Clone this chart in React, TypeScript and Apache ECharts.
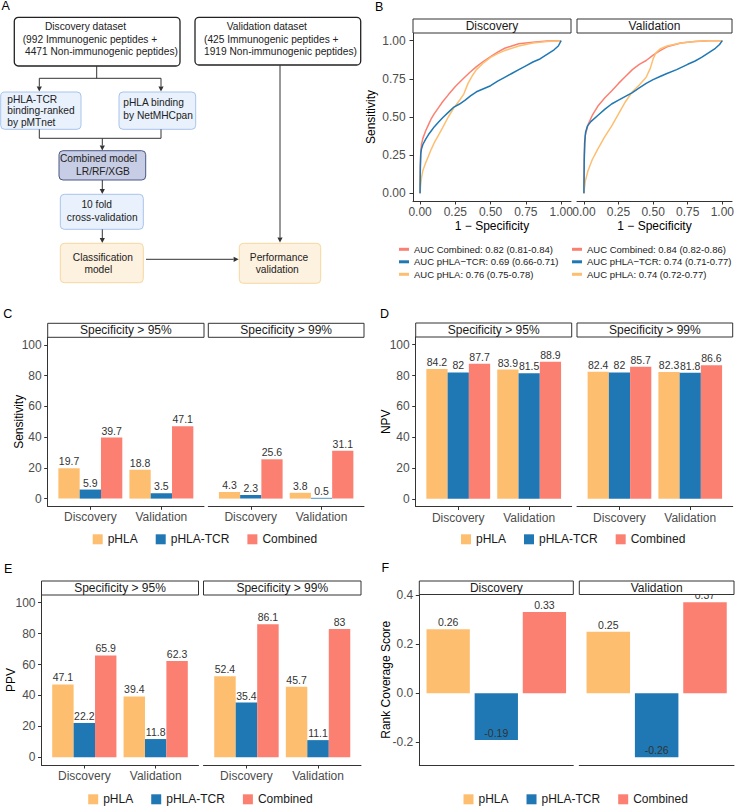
import React, { useEffect, useRef } from "react";
import * as echarts from "echarts";

const FONT = '"Liberation Sans", Arial, Helvetica, sans-serif';

// ---------------- data ----------------
const groups = ["Discovery", "Validation"];
const models = ["pHLA", "pHLA-TCR", "Combined"];
const modelColors = ["#FDBF6F", "#1F78B4", "#FB8072"];

// rows: pHLA, pHLA-TCR, Combined ; cols: Discovery, Validation
const sens95 = [[19.7, 18.8], [5.9, 3.5], [39.7, 47.1]];
const sens99 = [[4.3, 3.8], [2.3, 0.5], [25.6, 31.1]];
const npv95 = [[84.2, 83.9], [82, 81.5], [87.7, 88.9]];
const npv99 = [[82.4, 82.3], [82, 81.8], [85.7, 86.6]];
const ppv95 = [[47.1, 39.4], [22.2, 11.8], [65.9, 62.3]];
const ppv99 = [[52.4, 45.7], [35.4, 11.1], [86.1, 83]];
// pHLA, pHLA-TCR, Combined
const rcsDiscovery = [0.26, -0.19, 0.33];
const rcsValidation = [0.25, -0.26, 0.37];

const pctTicks = [0, 20, 40, 60, 80, 100];
const rocTicks = [0, 0.25, 0.5, 0.75, 1];
const rcsTicks = [-0.2, 0, 0.2, 0.4];

const aucDiscovery = [
  "AUC Combined: 0.82 (0.81-0.84)",
  "AUC pHLA\u2212TCR: 0.69 (0.66-0.71)",
  "AUC pHLA: 0.76 (0.75-0.78)",
];
const aucValidation = [
  "AUC Combined: 0.84 (0.82-0.86)",
  "AUC pHLA\u2212TCR: 0.74 (0.71-0.77)",
  "AUC pHLA: 0.74 (0.72-0.77)",
];

// ROC curves [1 - specificity, sensitivity]
const rocDiscCombined = [[0, 0], [0.002, 0.15], [0.005, 0.27], [0.01, 0.32], [0.02, 0.36], [0.04, 0.41], [0.06, 0.45], [0.08, 0.49], [0.1, 0.52], [0.13, 0.56], [0.16, 0.6], [0.2, 0.645], [0.25, 0.7], [0.3, 0.745], [0.35, 0.79], [0.4, 0.83], [0.45, 0.865], [0.5, 0.895], [0.55, 0.925], [0.6, 0.95], [0.65, 0.965], [0.7, 0.98], [0.8, 0.99], [0.9, 0.997], [1, 1]];
const rocDiscPHLA = [[0, 0], [0.003, 0.04], [0.01, 0.1], [0.02, 0.15], [0.04, 0.2], [0.06, 0.245], [0.08, 0.29], [0.1, 0.33], [0.13, 0.38], [0.16, 0.43], [0.2, 0.5], [0.24, 0.56], [0.28, 0.61], [0.31, 0.65], [0.34, 0.72], [0.37, 0.77], [0.4, 0.81], [0.45, 0.855], [0.5, 0.89], [0.55, 0.915], [0.6, 0.935], [0.7, 0.965], [0.8, 0.985], [0.9, 0.995], [1, 1]];
const rocDiscTCR = [[0, 0], [0.002, 0.18], [0.005, 0.26], [0.01, 0.29], [0.02, 0.32], [0.04, 0.355], [0.06, 0.385], [0.08, 0.41], [0.1, 0.435], [0.13, 0.465], [0.16, 0.495], [0.2, 0.53], [0.24, 0.565], [0.28, 0.585], [0.32, 0.61], [0.36, 0.64], [0.4, 0.665], [0.45, 0.685], [0.5, 0.705], [0.55, 0.735], [0.6, 0.76], [0.65, 0.785], [0.7, 0.81], [0.75, 0.835], [0.8, 0.86], [0.85, 0.88], [0.9, 0.91], [0.95, 0.94], [0.98, 0.965], [1, 1]];
const rocValCombined = [[0, 0], [0.003, 0.25], [0.01, 0.38], [0.03, 0.45], [0.06, 0.51], [0.1, 0.57], [0.15, 0.625], [0.2, 0.67], [0.25, 0.72], [0.3, 0.765], [0.35, 0.81], [0.4, 0.845], [0.45, 0.87], [0.5, 0.905], [0.55, 0.935], [0.6, 0.96], [0.7, 0.985], [0.8, 0.995], [0.9, 0.999], [1, 1]];
const rocValPHLA = [[0, 0], [0.003, 0.03], [0.01, 0.08], [0.03, 0.15], [0.06, 0.22], [0.1, 0.29], [0.15, 0.37], [0.2, 0.44], [0.25, 0.52], [0.3, 0.6], [0.35, 0.665], [0.4, 0.71], [0.45, 0.76], [0.48, 0.82], [0.5, 0.88], [0.52, 0.92], [0.55, 0.945], [0.6, 0.965], [0.7, 0.985], [0.8, 0.995], [0.9, 0.999], [1, 1]];
const rocValTCR = [[0, 0], [0.002, 0.2], [0.005, 0.33], [0.012, 0.4], [0.025, 0.44], [0.05, 0.47], [0.1, 0.51], [0.15, 0.55], [0.2, 0.585], [0.25, 0.61], [0.3, 0.635], [0.35, 0.66], [0.4, 0.69], [0.45, 0.72], [0.5, 0.745], [0.55, 0.765], [0.6, 0.785], [0.67, 0.81], [0.75, 0.845], [0.8, 0.865], [0.85, 0.89], [0.9, 0.92], [0.95, 0.95], [0.98, 0.975], [1, 1]];

// ---------------- layout ----------------
// grid order: B1, B2, C1, C2, D1, D2, E1, E2, F1, F2
const grids = [
  { left: 413, top: 33, width: 158, height: 168 },
  { left: 577, top: 33, width: 155, height: 168 },
  { left: 47.7, top: 337.3, width: 156.3, height: 169 },
  { left: 208.3, top: 337.3, width: 155.7, height: 169 },
  { left: 415.7, top: 337, width: 156, height: 169.5 },
  { left: 577, top: 337, width: 155.7, height: 169.5 },
  { left: 41.5, top: 595, width: 157, height: 170 },
  { left: 203.5, top: 595, width: 157.5, height: 170 },
  { left: 419.3, top: 594.5, width: 154, height: 170.5 },
  { left: 579.3, top: 594.5, width: 154.7, height: 170.5 },
];
const strips = [
  ["Discovery", 0, 19], ["Validation", 1, 19],
  ["Specificity > 95%", 2, 323.3], ["Specificity > 99%", 3, 323.3],
  ["Specificity > 95%", 4, 323], ["Specificity > 99%", 5, 323],
  ["Specificity > 95%", 6, 581], ["Specificity > 99%", 7, 581],
  ["Discovery", 8, 581], ["Validation", 9, 581],
];

const AXIS_COLOR = "#333";
const TICK_COLOR = "#4d4d4d";

function txt(text: string, x: number, y: number, size: number, align = "left", color = "#222", z = 60) {
  return {
    type: "text",
    x,
    y,
    z,
    style: {
      text,
      fill: color,
      fontSize: size,
      fontFamily: FONT,
      align,
      textAlign: align,
      verticalAlign: "middle",
      textVerticalAlign: "middle",
    },
  };
}

function box(x1: number, y1: number, x2: number, y2: number, fill: string, stroke: string, lw = 1) {
  return {
    type: "rect",
    shape: { x: x1, y: y1, width: x2 - x1, height: y2 - y1, r: 4 },
    style: { fill, stroke, lineWidth: lw },
    z: 55,
  };
}

function seg(x1: number, y1: number, x2: number, y2: number) {
  return { type: "line", shape: { x1, y1, x2, y2 }, style: { stroke: "#333", lineWidth: 1 }, z: 55 };
}

function arrow(x1: number, y1: number, x2: number, y2: number) {
  const dx = x2 - x1;
  const dy = y2 - y1;
  const L = Math.hypot(dx, dy);
  const ux = dx / L;
  const uy = dy / L;
  const hl = 5;
  const hw = 2.6;
  const bx = x2 - ux * hl;
  const by = y2 - uy * hl;
  return [
    seg(x1, y1, bx, by),
    {
      type: "polygon",
      shape: { points: [[x2, y2], [bx - uy * hw, by + ux * hw], [bx + uy * hw, by - ux * hw]] },
      style: { fill: "#333" },
      z: 55,
    },
  ];
}

function buildGraphics() {
  const g: any[] = [];
  // panel letters
  const letters: [string, number, number][] = [
    ["A", 1.5, 6.3], ["B", 375, 7.3], ["C", 3.3, 314.2], ["D", 380, 314.2], ["E", 4, 569.2], ["F", 381.5, 568],
  ];
  letters.forEach(([t, x, y]) => g.push(txt(t, x, y, 12.5, "left", "#000")));

  // facet strips
  strips.forEach(([label, gi, top]) => {
    const gr = grids[gi as number];
    const h = (gr.top as number) - (top as number);
    g.push({
      type: "rect",
      shape: { x: gr.left, y: top, width: gr.width, height: h },
      style: { fill: "#fff", stroke: "#333", lineWidth: 1 },
      z: 50,
    });
    g.push(txt(label as string, gr.left + gr.width / 2, (top as number) + h / 2, 12, "center", "#1a1a1a", 51));
  });

  // flowchart (panel A)
  g.push(box(14.3, 17.3, 180, 66, "#fff", "#222", 1.3));
  g.push(txt("Discovery dataset", 45, 26.7, 10.2));
  g.push(txt("(992 Immunogenic peptides +", 22.7, 39.3, 10.2));
  g.push(txt("4471 Non-immunogenic peptides)", 25, 51.7, 10.2));

  g.push(box(195, 17.3, 360.7, 65, "#fff", "#222", 1.3));
  g.push(txt("Validation dataset", 226.7, 26.7, 10.2));
  g.push(txt("(425 Immunogenic peptides +", 204, 39.3, 10.2));
  g.push(txt("1919 Non-immunogenic peptides)", 204, 51.7, 10.2));

  g.push(seg(96.7, 66, 96.7, 78.3));
  g.push(seg(39.3, 78.3, 161, 78.3));
  g.push(...arrow(39.3, 78.3, 39.3, 91.6));
  g.push(...arrow(161, 78.3, 161, 91.6));

  g.push(box(0.7, 92, 81, 129.3, "#e9f1fc", "#a8c4ee"));
  g.push(txt("pHLA-TCR", 7.3, 99.3, 10.2));
  g.push(txt("binding-ranked", 7.3, 110.6, 10.2));
  g.push(txt("by pMTnet", 7.3, 122.5, 10.2));

  g.push(box(119, 92, 195.7, 129.3, "#e9f1fc", "#a8c4ee"));
  g.push(txt("pHLA binding", 123.3, 102.7, 10.2));
  g.push(txt("by NetMHCpan", 123.3, 115, 10.2));

  g.push(seg(39.3, 129.3, 39.3, 138.3));
  g.push(seg(161, 129.3, 161, 138.3));
  g.push(seg(39.3, 138.3, 161, 138.3));
  g.push(...arrow(102.3, 138.3, 102.3, 150.5));

  g.push(box(59, 150.7, 145.7, 180, "#c7cde4", "#4a5784"));
  g.push(txt("Combined model", 98.5, 158.3, 10.2, "center"));
  g.push(txt("LR/RF/XGB", 103, 171.4, 10.2, "center"));

  g.push(...arrow(102.3, 180, 102.3, 194.1));

  g.push(box(60.3, 194.3, 143.3, 229.3, "#e9f1fc", "#a8c4ee"));
  g.push(txt("10 fold", 96.7, 204.3, 10.2, "center"));
  g.push(txt("cross-validation", 102.2, 217, 10.2, "center"));

  g.push(...arrow(102.3, 229.3, 102.3, 243.1));

  g.push(box(60.3, 243.3, 143.3, 282.7, "#fdf1df", "#f6d8a0"));
  g.push(txt("Classification", 102.8, 257.3, 10.2, "center"));
  g.push(txt("model", 98.3, 269.3, 10.2, "center"));

  g.push(box(239.3, 243.3, 320.7, 283.3, "#fdf1df", "#f6d8a0"));
  g.push(txt("Performance", 279, 257.3, 10.2, "center"));
  g.push(txt("validation", 277.2, 269.3, 10.2, "center"));

  g.push(...arrow(146, 259.3, 238.6, 259.3));
  g.push(...arrow(280, 65, 280, 242.6));
  return g;
}

// --------------- axes ---------------
const nameStyle = { fontSize: 12, color: "#000", fontFamily: FONT };

function xAxisOf(i: number, cfg: any) {
  return {
    type: "value",
    gridIndex: i,
    min: cfg.min,
    max: cfg.max,
    splitLine: { show: false },
    axisLine: { show: true, onZero: false, lineStyle: { color: AXIS_COLOR, width: 1 } },
    axisTick: cfg.ticks
      ? { show: true, customValues: cfg.ticks, length: 3.5, lineStyle: { color: AXIS_COLOR } }
      : { show: false },
    axisLabel: cfg.ticks
      ? {
          show: true,
          customValues: cfg.ticks,
          formatter: cfg.fmt,
          margin: 5,
          fontSize: 12,
          color: TICK_COLOR,
          fontFamily: FONT,
        }
      : { show: false },
    name: cfg.name || "",
    nameLocation: "middle",
    nameGap: cfg.nameGap || 0,
    nameTextStyle: nameStyle,
    nameMoveOverlap: false,
  };
}

function yAxisOf(i: number, cfg: any) {
  return {
    type: "value",
    gridIndex: i,
    min: cfg.min,
    max: cfg.max,
    show: cfg.show,
    splitLine: { show: false },
    axisLine: { show: cfg.show, onZero: false, lineStyle: { color: AXIS_COLOR, width: 1 } },
    axisTick: { show: cfg.show, customValues: cfg.ticks, length: 3.5, lineStyle: { color: AXIS_COLOR } },
    axisLabel: {
      show: cfg.show,
      customValues: cfg.ticks,
      formatter: cfg.fmt,
      margin: cfg.margin || 6,
      fontSize: 12,
      color: TICK_COLOR,
      fontFamily: FONT,
    },
    name: cfg.name || "",
    nameLocation: "middle",
    nameGap: cfg.nameGap || 0,
    nameTextStyle: nameStyle,
    nameMoveOverlap: false,
  };
}

// --------------- bar renderers ---------------
function barShape(api: any, m: number, left: number, right: number, v: number) {
  const a = api.coord([left, 0]);
  const b = api.coord([right, v]);
  return {
    type: "group",
    children: [
      {
        type: "rect",
        shape: { x: a[0], y: Math.min(a[1], b[1]), width: b[0] - a[0], height: Math.abs(a[1] - b[1]) },
        style: { fill: modelColors[m] },
      },
      {
        type: "text",
        x: (a[0] + b[0]) / 2,
        y: b[1] - 7,
        style: {
          text: String(v),
          fill: "#333",
          fontSize: 10.5,
          fontFamily: FONT,
          align: "center",
          verticalAlign: "middle",
        },
      },
    ],
  };
}

function dodgeRenderer(m: number) {
  const barW = 0.3;
  return (params: any, api: any) => {
    const xc = api.value(0) as number;
    const v = api.value(1) as number;
    const c = xc + (m - 1) * barW;
    return barShape(api, m, c - barW / 2, c + barW / 2, v);
  };
}

function singleRenderer(m: number) {
  const barW = 0.9;
  return (params: any, api: any) => {
    const xc = api.value(0) as number;
    const v = api.value(1) as number;
    return barShape(api, m, xc - barW / 2, xc + barW / 2, v);
  };
}

function buildOption() {
  const xAxis: any[] = [];
  const yAxis: any[] = [];
  const fmt2 = (v: number) => v.toFixed(2);
  const grpFmt = (v: number) => groups[Math.round(v) - 1] || "";

  // B
  for (let i = 0; i < 2; i++) {
    xAxis.push(xAxisOf(i, { min: -0.05, max: 1.07, ticks: rocTicks, fmt: fmt2, name: "1 \u2212 Specificity", nameGap: 19 }));
    yAxis.push(yAxisOf(i, { min: -0.05, max: 1.05, ticks: rocTicks, fmt: fmt2, show: i === 0, name: i === 0 ? "Sensitivity" : "", nameGap: 36, margin: 7.4 }));
  }
  // C, D, E
  const titles = ["Sensitivity", "NPV", "PPV"];
  const gaps = [22.5, 24, 24.5];
  for (let p = 0; p < 3; p++) {
    for (let f = 0; f < 2; f++) {
      const i = 2 + p * 2 + f;
      xAxis.push(xAxisOf(i, { min: 0.4, max: 2.6, ticks: [1, 2], fmt: grpFmt }));
      yAxis.push(yAxisOf(i, { min: -5, max: 105, ticks: pctTicks, fmt: (v: number) => String(v), show: f === 0, name: f === 0 ? titles[p] : "", nameGap: gaps[p] }));
    }
  }
  // F
  for (let f = 0; f < 2; f++) {
    const i = 8 + f;
    xAxis.push(xAxisOf(i, { min: 0.4, max: 3.6 }));
    yAxis.push(yAxisOf(i, { min: -0.2915, max: 0.4015, ticks: rcsTicks, fmt: (v: number) => v.toFixed(1), show: f === 0, name: f === 0 ? "Rank Coverage Score" : "", nameGap: 27.5 }));
  }

  const series: any[] = [];
  // ROC lines: Combined, pHLA, pHLA-TCR (TCR drawn last)
  const rocSets = [
    { idx: 0, names: aucDiscovery, data: [rocDiscCombined, rocDiscTCR, rocDiscPHLA] },
    { idx: 1, names: aucValidation, data: [rocValCombined, rocValTCR, rocValPHLA] },
  ];
  const rocColors = [modelColors[2], modelColors[1], modelColors[0]];
  rocSets.forEach((s) => {
    [0, 2, 1].forEach((k) => {
      series.push({
        type: "line",
        name: s.names[k],
        xAxisIndex: s.idx,
        yAxisIndex: s.idx,
        data: s.data[k],
        showSymbol: false,
        symbol: "none",
        lineStyle: { width: 1.5, color: rocColors[k] },
        itemStyle: { color: rocColors[k] },
      });
    });
  });

  const barPanels = [sens95, sens99, npv95, npv99, ppv95, ppv99];
  barPanels.forEach((mat, pi) => {
    const ai = 2 + pi;
    models.forEach((name, m) => {
      series.push({
        type: "custom",
        name,
        xAxisIndex: ai,
        yAxisIndex: ai,
        data: groups.map((_, gi) => [gi + 1, mat[m][gi]]),
        renderItem: dodgeRenderer(m),
        itemStyle: { color: modelColors[m] },
      });
    });
  });
  [rcsDiscovery, rcsValidation].forEach((vals, f) => {
    models.forEach((name, m) => {
      series.push({
        type: "custom",
        name,
        xAxisIndex: 8 + f,
        yAxisIndex: 8 + f,
        data: [[m + 1, vals[m]]],
        renderItem: singleRenderer(m),
        itemStyle: { color: modelColors[m] },
      });
    });
  });

  const barLegend = (left: number, top: number) => ({
    data: models,
    orient: "horizontal",
    left,
    top,
    padding: 0,
    icon: "rect",
    itemWidth: 10,
    itemHeight: 10,
    itemGap: 18,
    selectedMode: false,
    textStyle: { fontSize: 12, color: "#1a1a1a", fontFamily: FONT, lineHeight: 14 },
  });
  const rocLegend = (left: number, names: string[]) => ({
    data: names,
    orient: "vertical",
    left,
    top: 243.3,
    padding: 0,
    icon: "rect",
    itemWidth: 10,
    itemHeight: 3,
    itemGap: 0.5,
    selectedMode: false,
    textStyle: { fontSize: 9.5, color: "#1a1a1a", fontFamily: FONT, lineHeight: 12 },
  });

  return {
    animation: false,
    backgroundColor: "#fff",
    textStyle: { fontFamily: FONT },
    grid: grids.map((g) => ({ ...g, containLabel: false, outerBoundsMode: "none" })),
    xAxis,
    yAxis,
    series,
    legend: [
      rocLegend(399, aucDiscovery),
      rocLegend(572, aucValidation),
      barLegend(92.7, 532.3),
      barLegend(461, 532.3),
      barLegend(88.2, 792.3),
      barLegend(463.5, 792.3),
    ],
    graphic: { elements: buildGraphics() },
  };
}

export default function App() {
  const ref = useRef<HTMLDivElement>(null);
  useEffect(() => {
    document.body.style.margin = "0";
    const chart = echarts.init(ref.current as HTMLDivElement, null, { renderer: "svg" });
    chart.setOption(buildOption() as any);
    return () => chart.dispose();
  }, []);
  return <div ref={ref} style={{ width: 735, height: 806 }} />;
}
